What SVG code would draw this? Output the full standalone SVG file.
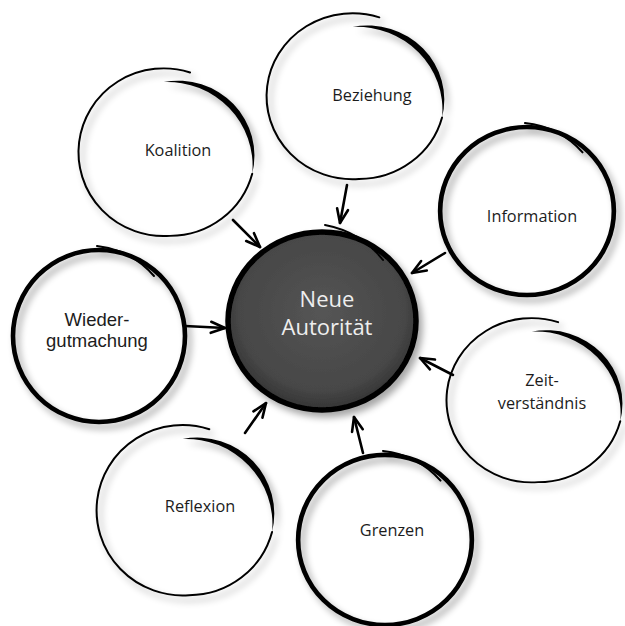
<svg xmlns="http://www.w3.org/2000/svg" xmlns:xlink="http://www.w3.org/1999/xlink" width="625" height="626" viewBox="0 0 625 626">
<style>
.lbl{font-family:"Open Sans","Noto Sans",sans-serif;font-size:16.3px;fill:#1c1c1c;text-anchor:middle}
.lblA{font-family:"Liberation Sans",Arial,sans-serif;font-size:18.5px;fill:#1c1c1c;text-anchor:middle}
.ctr{font-family:"Open Sans","Noto Sans",sans-serif;font-size:22px;fill:#eeeeee;text-anchor:middle}
.thin{fill:none;stroke:#000;stroke-width:2;stroke-linecap:round}
.thick{fill:none;stroke:#000;stroke-width:4.6}
.arr{fill:none;stroke:#000;stroke-width:2.6;stroke-linecap:round}
</style>
<defs>
<filter id="sh" x="-20%" y="-20%" width="150%" height="150%">
<feGaussianBlur in="SourceAlpha" stdDeviation="3.5"/>
<feOffset dx="4" dy="5"/>
<feComponentTransfer><feFuncA type="linear" slope="0.35"/></feComponentTransfer>
<feMerge><feMergeNode/><feMergeNode in="SourceGraphic"/></feMerge>
</filter>
<radialGradient id="cg" cx="50%" cy="45%" r="55%">
<stop offset="0" stop-color="#555"/>
<stop offset="0.8" stop-color="#474747"/>
<stop offset="1" stop-color="#333"/>
</radialGradient>
<marker id="ah" viewBox="-17 -9 20 18" refX="0" refY="0" markerWidth="20" markerHeight="18" markerUnits="userSpaceOnUse" orient="auto">
<path d="M-14,-5.5 L0,0 L-14,5.5" fill="none" stroke="#000" stroke-width="2.6" stroke-linecap="round" stroke-linejoin="round"/>
</marker>
<g id="tA">
<path class="thin" d="M20.3,-81.5 A86,86 0 1 0 0,86 A86,86 0 0 0 83.07,22.26"/>
<path d="M83.07,22.26 A77,77 0 0 0 -6.28,-71.73 A86,86 0 0 1 83.07,22.26 Z" fill="#000"/>
</g>
<g id="tB">
<circle class="thick" cx="0" cy="0" r="86"/>
<path class="thin" d="M-2,-90 A88,88 0 0 1 55,-60" stroke-width="1.8"/>
</g>
</defs>
<rect width="625" height="626" fill="#fff"/>

<g id="connectors">
<line class="arr" x1="233" y1="220" x2="260" y2="247" marker-end="url(#ah)"/>
<line class="arr" x1="347" y1="185" x2="340" y2="223" marker-end="url(#ah)"/>
<line class="arr" x1="445" y1="253" x2="412" y2="273" marker-end="url(#ah)"/>
<line class="arr" x1="453" y1="375" x2="420" y2="358" marker-end="url(#ah)"/>
<line class="arr" x1="363" y1="453" x2="354" y2="417" marker-end="url(#ah)"/>
<line class="arr" x1="245" y1="433" x2="266" y2="403" marker-end="url(#ah)"/>
<line class="arr" x1="185" y1="326" x2="225" y2="328" marker-end="url(#ah)"/>
</g>

<g id="beziehung">
<g filter="url(#sh)"><use xlink:href="#tA" transform="translate(359,96) scale(1,0.965)"/></g>
<text class="lbl" x="372" y="101">Beziehung</text>
</g>

<g id="koalition">
<g filter="url(#sh)"><use xlink:href="#tA" transform="translate(170,152) scale(0.99,0.975)"/></g>
<text class="lbl" x="178" y="156">Koalition</text>
</g>

<g id="information">
<g filter="url(#sh)"><use xlink:href="#tB" transform="translate(527,211) scale(1.01,0.977)"/></g>
<text class="lbl" x="532" y="222">Information</text>
</g>

<g id="wiedergutmachung">
<g filter="url(#sh)"><use xlink:href="#tB" transform="translate(99,336)"/></g>
<text class="lblA" x="97" y="326">Wieder-</text>
<text class="lblA" x="97" y="347">gutmachung</text>
</g>

<g id="zeitverstaendnis">
<g filter="url(#sh)"><use xlink:href="#tA" transform="translate(538,400) scale(0.99,0.955)"/></g>
<text class="lbl" x="542" y="386">Zeit-</text>
<text class="lbl" x="542" y="409">verständnis</text>
</g>

<g id="reflexion">
<g filter="url(#sh)"><use xlink:href="#tA" transform="translate(189,510) scale(1,0.99)"/></g>
<text class="lbl" x="200" y="512">Reflexion</text>
</g>

<g id="grenzen">
<g filter="url(#sh)"><use xlink:href="#tB" transform="translate(385,540) scale(1.01,0.99)"/></g>
<text class="lbl" x="392" y="536">Grenzen</text>
</g>

<g id="neue-autoritaet">
<g filter="url(#sh)">
<ellipse cx="322" cy="321" rx="94" ry="89" fill="url(#cg)" stroke="#000" stroke-width="5.5"/>
<path class="thin" d="M325,225 A96,92 0 0 1 383,260" stroke-width="2"/>
</g>
<text class="ctr" x="327" y="307">Neue</text>
<text class="ctr" x="327" y="335">Autorität</text>
</g>
</svg>
